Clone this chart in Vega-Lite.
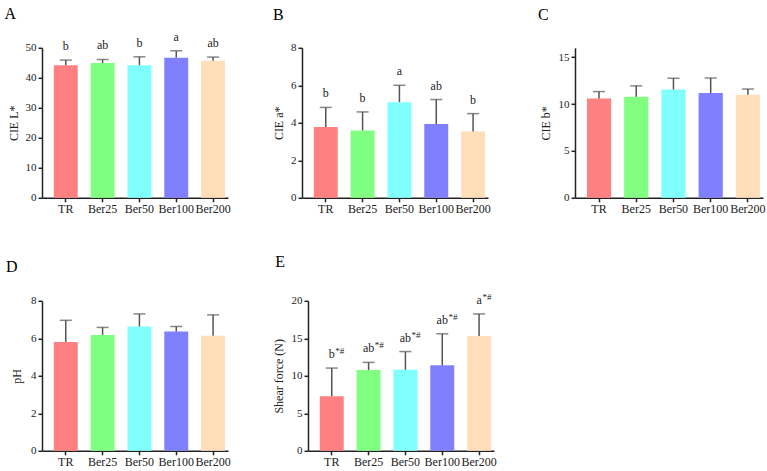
{
  "$schema": "https://vega.github.io/schema/vega-lite/v6.json",
  "background": "white",
  "padding": {"left": 4, "top": 5.8, "right": 5, "bottom": 5},
  "config": {
    "view": {"stroke": null},
    "axis": {"labelFont": "Liberation Serif", "titleFont": "Liberation Serif", "labelFontSize": 11, "titleFontSize": 12, "titleFontWeight": "normal", "labelColor": "#222", "titleColor": "#222", "domainColor": "#222", "domainWidth": 1.5, "tickColor": "#222", "tickWidth": 1.5, "tickSize": 4, "grid": false, "labelPadding": 2, "labelOverlap": false},
    "axisX": {"labelAngle": 0, "title": null, "labelFontSize": 12},
    "axisY": {"titleBaseline": "middle"},
    "title": {"font": "Liberation Serif", "fontSize": 16, "fontWeight": "normal", "anchor": "start", "frame": "group", "color": "#000", "offset": 8},
    "text": {"font": "Liberation Serif", "fontSize": 12, "color": "#222"}
  },
  "data": {"values": [
    {"panel": "A", "group": "TR", "mean": 44.2, "upper": 45.9, "sig": "b", "sup": ""},
    {"panel": "A", "group": "Ber25", "mean": 44.9, "upper": 46.1, "sig": "ab", "sup": ""},
    {"panel": "A", "group": "Ber50", "mean": 44.2, "upper": 47.0, "sig": "b", "sup": ""},
    {"panel": "A", "group": "Ber100", "mean": 46.7, "upper": 49.0, "sig": "a", "sup": ""},
    {"panel": "A", "group": "Ber200", "mean": 45.7, "upper": 46.9, "sig": "ab", "sup": ""},
    {"panel": "B", "group": "TR", "mean": 3.77, "upper": 4.82, "sig": "b", "sup": ""},
    {"panel": "B", "group": "Ber25", "mean": 3.59, "upper": 4.58, "sig": "b", "sup": ""},
    {"panel": "B", "group": "Ber50", "mean": 5.10, "upper": 6.00, "sig": "a", "sup": ""},
    {"panel": "B", "group": "Ber100", "mean": 3.93, "upper": 5.24, "sig": "ab", "sup": ""},
    {"panel": "B", "group": "Ber200", "mean": 3.53, "upper": 4.49, "sig": "b", "sup": ""},
    {"panel": "C", "group": "TR", "mean": 10.6, "upper": 11.33, "sig": "", "sup": ""},
    {"panel": "C", "group": "Ber25", "mean": 10.77, "upper": 11.94, "sig": "", "sup": ""},
    {"panel": "C", "group": "Ber50", "mean": 11.54, "upper": 12.75, "sig": "", "sup": ""},
    {"panel": "C", "group": "Ber100", "mean": 11.17, "upper": 12.78, "sig": "", "sup": ""},
    {"panel": "C", "group": "Ber200", "mean": 11.0, "upper": 11.6, "sig": "", "sup": ""},
    {"panel": "D", "group": "TR", "mean": 5.80, "upper": 6.96, "sig": "", "sup": ""},
    {"panel": "D", "group": "Ber25", "mean": 6.18, "upper": 6.58, "sig": "", "sup": ""},
    {"panel": "D", "group": "Ber50", "mean": 6.63, "upper": 7.30, "sig": "", "sup": ""},
    {"panel": "D", "group": "Ber100", "mean": 6.36, "upper": 6.63, "sig": "", "sup": ""},
    {"panel": "D", "group": "Ber200", "mean": 6.13, "upper": 7.25, "sig": "", "sup": ""},
    {"panel": "E", "group": "TR", "mean": 7.26, "upper": 11.03, "sig": "b", "sup": "*#"},
    {"panel": "E", "group": "Ber25", "mean": 10.76, "upper": 11.79, "sig": "ab", "sup": "*#"},
    {"panel": "E", "group": "Ber50", "mean": 10.8, "upper": 13.23, "sig": "ab", "sup": "*#"},
    {"panel": "E", "group": "Ber100", "mean": 11.39, "upper": 15.6, "sig": "ab", "sup": "*#"},
    {"panel": "E", "group": "Ber200", "mean": 15.3, "upper": 18.25, "sig": "a", "sup": "*#"}
  ]},
  "spacing": 39,
  "vconcat": [
    {
      "bounds": "flush",
      "spacing": 0,
      "hconcat": [
        {
          "width": 186, "height": 150,
          "title": {"text": "A", "dx": -37.5, "offset": 8.9},
          "transform": [{"filter": "datum.panel == 'A'"}],
          "encoding": {"x": {"field": "group", "type": "nominal", "sort": ["TR", "Ber25", "Ber50", "Ber100", "Ber200"], "scale": {"paddingInner": 0.35, "paddingOuter": 0.2, "align": 0.8}}},
          "layer": [
            {"mark": {"type": "bar"}, "encoding": {"y": {"field": "mean", "type": "quantitative", "title": "CIE L*", "scale": {"domain": [0, 50]}, "axis": {"values": [0, 10, 20, 30, 40, 50], "titleX": -28.5}}, "color": {"field": "group", "type": "nominal", "legend": null, "scale": {"domain": ["TR", "Ber25", "Ber50", "Ber100", "Ber200"], "range": ["#FF8080", "#80FF80", "#80FFFF", "#8080FF", "#FFDEB9"]}}}},
            {"mark": {"type": "rule", "color": "#555", "strokeWidth": 1.5}, "encoding": {"y": {"field": "mean", "type": "quantitative", "title": "CIE L*", "axis": {"values": [0, 10, 20, 30, 40, 50], "titleX": -28.5}}, "y2": {"field": "upper"}}},
            {"mark": {"type": "tick", "color": "#555", "thickness": 1.5, "size": 12, "orient": "horizontal"}, "encoding": {"y": {"field": "upper", "type": "quantitative", "title": "CIE L*", "axis": {"values": [0, 10, 20, 30, 40, 50], "titleX": -28.5}}}},
            {"mark": {"type": "text", "dy": -10, "baseline": "alphabetic"}, "encoding": {"y": {"field": "upper", "type": "quantitative", "title": "CIE L*", "axis": {"values": [0, 10, 20, 30, 40, 50], "titleX": -28.5}}, "text": {"field": "sig"}}}
          ]
        },
        {"width": 73.5, "height": 150, "data": {"values": []}, "mark": "point"},
        {
          "width": 186, "height": 150,
          "title": {"text": "B", "dx": -29, "offset": 18.9},
          "transform": [{"filter": "datum.panel == 'B'"}],
          "encoding": {"x": {"field": "group", "type": "nominal", "sort": ["TR", "Ber25", "Ber50", "Ber100", "Ber200"], "scale": {"paddingInner": 0.35, "paddingOuter": 0.2, "align": 0.8}}},
          "layer": [
            {"mark": {"type": "bar"}, "encoding": {"y": {"field": "mean", "type": "quantitative", "title": "CIE a*", "scale": {"domain": [0, 8]}, "axis": {"values": [0, 2, 4, 6, 8], "titleX": -23.5}}, "color": {"field": "group", "type": "nominal", "legend": null, "scale": {"domain": ["TR", "Ber25", "Ber50", "Ber100", "Ber200"], "range": ["#FF8080", "#80FF80", "#80FFFF", "#8080FF", "#FFDEB9"]}}}},
            {"mark": {"type": "rule", "color": "#555", "strokeWidth": 1.5}, "encoding": {"y": {"field": "mean", "type": "quantitative", "title": "CIE a*", "axis": {"values": [0, 2, 4, 6, 8], "titleX": -23.5}}, "y2": {"field": "upper"}}},
            {"mark": {"type": "tick", "color": "#555", "thickness": 1.5, "size": 12, "orient": "horizontal"}, "encoding": {"y": {"field": "upper", "type": "quantitative", "title": "CIE a*", "axis": {"values": [0, 2, 4, 6, 8], "titleX": -23.5}}}},
            {"mark": {"type": "text", "dy": -10, "baseline": "alphabetic"}, "encoding": {"y": {"field": "upper", "type": "quantitative", "title": "CIE a*", "axis": {"values": [0, 2, 4, 6, 8], "titleX": -23.5}}, "text": {"field": "sig"}}}
          ]
        },
        {"width": 86.3, "height": 150, "data": {"values": []}, "mark": "point"},
        {
          "width": 188, "height": 150,
          "title": {"text": "C", "dx": -37, "offset": 24.9},
          "transform": [{"filter": "datum.panel == 'C'"}],
          "encoding": {"x": {"field": "group", "type": "nominal", "sort": ["TR", "Ber25", "Ber50", "Ber100", "Ber200"], "scale": {"paddingInner": 0.35, "paddingOuter": 0.2, "align": 0.8}}},
          "layer": [
            {"mark": {"type": "bar"}, "encoding": {"y": {"field": "mean", "type": "quantitative", "title": "CIE b*", "scale": {"domain": [0, 15]}, "axis": {"values": [0, 5, 10, 15], "titleX": -29.3}}, "color": {"field": "group", "type": "nominal", "legend": null, "scale": {"domain": ["TR", "Ber25", "Ber50", "Ber100", "Ber200"], "range": ["#FF8080", "#80FF80", "#80FFFF", "#8080FF", "#FFDEB9"]}}}},
            {"mark": {"type": "rule", "color": "#555", "strokeWidth": 1.5}, "encoding": {"y": {"field": "mean", "type": "quantitative", "title": "CIE b*", "axis": {"values": [0, 5, 10, 15], "titleX": -29.3}}, "y2": {"field": "upper"}}},
            {"mark": {"type": "tick", "color": "#555", "thickness": 1.5, "size": 12, "orient": "horizontal"}, "encoding": {"y": {"field": "upper", "type": "quantitative", "title": "CIE b*", "axis": {"values": [0, 5, 10, 15], "titleX": -29.3}}}}
          ]
        }
      ]
    },
    {
      "bounds": "flush",
      "spacing": 0,
      "hconcat": [
        {
          "width": 186, "height": 150,
          "title": {"text": "D", "dx": -36, "offset": 20.2},
          "transform": [{"filter": "datum.panel == 'D'"}],
          "encoding": {"x": {"field": "group", "type": "nominal", "sort": ["TR", "Ber25", "Ber50", "Ber100", "Ber200"], "scale": {"paddingInner": 0.35, "paddingOuter": 0.2, "align": 0.8}}},
          "layer": [
            {"mark": {"type": "bar"}, "encoding": {"y": {"field": "mean", "type": "quantitative", "title": "pH", "scale": {"domain": [0, 8]}, "axis": {"values": [0, 2, 4, 6, 8], "titleX": -25.7}}, "color": {"field": "group", "type": "nominal", "legend": null, "scale": {"domain": ["TR", "Ber25", "Ber50", "Ber100", "Ber200"], "range": ["#FF8080", "#80FF80", "#80FFFF", "#8080FF", "#FFDEB9"]}}}},
            {"mark": {"type": "rule", "color": "#555", "strokeWidth": 1.5}, "encoding": {"y": {"field": "mean", "type": "quantitative", "title": "pH", "axis": {"values": [0, 2, 4, 6, 8], "titleX": -25.7}}, "y2": {"field": "upper"}}},
            {"mark": {"type": "tick", "color": "#555", "thickness": 1.5, "size": 12, "orient": "horizontal"}, "encoding": {"y": {"field": "upper", "type": "quantitative", "title": "pH", "axis": {"values": [0, 2, 4, 6, 8], "titleX": -25.7}}}}
          ]
        },
        {"width": 79.7, "height": 150, "data": {"values": []}, "mark": "point"},
        {
          "width": 186, "height": 150,
          "title": {"text": "E", "dx": -32.7, "offset": 22.5},
          "transform": [{"filter": "datum.panel == 'E'"}],
          "encoding": {"x": {"field": "group", "type": "nominal", "sort": ["TR", "Ber25", "Ber50", "Ber100", "Ber200"], "scale": {"paddingInner": 0.35, "paddingOuter": 0.2, "align": 0.8}}},
          "layer": [
            {"mark": {"type": "bar"}, "encoding": {"y": {"field": "mean", "type": "quantitative", "title": "Shear force (N)", "scale": {"domain": [0, 20]}, "axis": {"values": [0, 5, 10, 15, 20], "titleX": -29.4}}, "color": {"field": "group", "type": "nominal", "legend": null, "scale": {"domain": ["TR", "Ber25", "Ber50", "Ber100", "Ber200"], "range": ["#FF8080", "#80FF80", "#80FFFF", "#8080FF", "#FFDEB9"]}}}},
            {"mark": {"type": "rule", "color": "#555", "strokeWidth": 1.5}, "encoding": {"y": {"field": "mean", "type": "quantitative", "title": "Shear force (N)", "axis": {"values": [0, 5, 10, 15, 20], "titleX": -29.4}}, "y2": {"field": "upper"}}},
            {"mark": {"type": "tick", "color": "#555", "thickness": 1.5, "size": 12, "orient": "horizontal"}, "encoding": {"y": {"field": "upper", "type": "quantitative", "title": "Shear force (N)", "axis": {"values": [0, 5, 10, 15, 20], "titleX": -29.4}}}},
            {"mark": {"type": "text", "dy": -10, "baseline": "alphabetic"}, "encoding": {"y": {"field": "upper", "type": "quantitative", "title": "Shear force (N)", "axis": {"values": [0, 5, 10, 15, 20], "titleX": -29.4}}, "text": {"field": "sig"}}},
            {"transform": [{"filter": "length(datum.sig) == 1"}], "mark": {"type": "text", "dy": -14, "dx": 3.5, "align": "left", "baseline": "alphabetic", "fontSize": 9}, "encoding": {"y": {"field": "upper", "type": "quantitative", "title": "Shear force (N)", "axis": {"values": [0, 5, 10, 15, 20], "titleX": -29.4}}, "text": {"field": "sup"}}},
            {"transform": [{"filter": "length(datum.sig) == 2"}], "mark": {"type": "text", "dy": -14, "dx": 6.2, "align": "left", "baseline": "alphabetic", "fontSize": 9}, "encoding": {"y": {"field": "upper", "type": "quantitative", "title": "Shear force (N)", "axis": {"values": [0, 5, 10, 15, 20], "titleX": -29.4}}, "text": {"field": "sup"}}}
          ]
        }
      ]
    }
  ]
}
